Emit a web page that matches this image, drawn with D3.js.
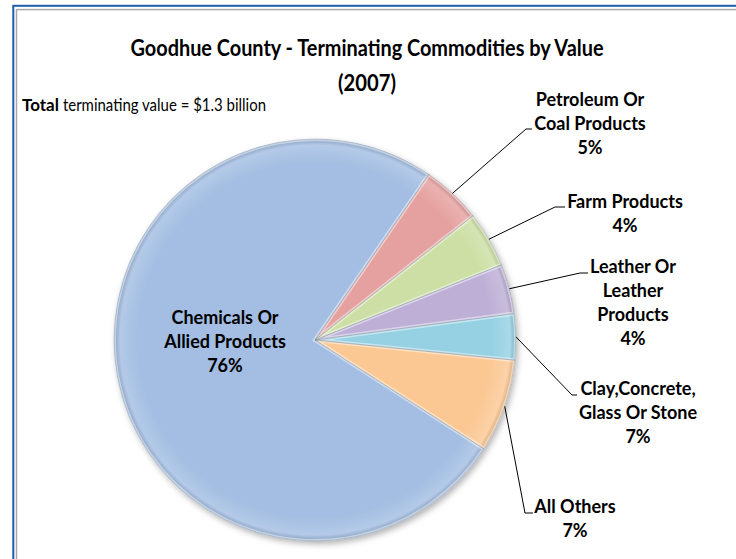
<!DOCTYPE html>
<html>
<head>
<meta charset="utf-8">
<script src="https://cdn.jsdelivr.net/npm/d3@7"></script>
<style>
  html, body { margin: 0; padding: 0; background: #fff; }
  svg { display: block; }
  text { font-family: Lato, "Open Sans", sans-serif; fill: #000; }
</style>
</head>
<body>
<svg id="chart" width="736" height="559"></svg>
<script>
// ---- data ----
const categories = ["Chemicals Or Allied Products", "Petroleum Or Coal Products", "Farm Products",
                    "Leather Or Leather Products", "Clay,Concrete, Glass Or Stone", "All Others"];
const values = [75.4, 4.8, 4.5, 4.0, 3.7, 7.5];
const percentLabels = ["76%", "5%", "4%", "4%", "7%", "7%"];
const labelLines = [
  ["Chemicals Or", "Allied Products"],
  ["Petroleum Or", "Coal Products"],
  ["Farm Products"],
  ["Leather Or", "Leather", "Products"],
  ["Clay,Concrete,", "Glass Or Stone"],
  ["All Others"]
];
const titleLines = ["Goodhue County - Terminating Commodities by Value", "(2007)"];
const totalBold = "Total";
const totalRest = "terminating value = $1.3 billion";

// ---- style / layout ----
const colors = ["#a3bee2", "#e5a19f", "#cddfa4", "#bdafd6", "#95d1e3", "#fbc894"];
// label layout: text centre x, first baseline y, elbow point, tick end x (null = inside label)
const labelLayout = [
  { cx: 225, y0: 324, elbow: null },
  { cx: 590, y0: 106, elbow: [526, 129], tick: 532 },
  { cx: 625, y0: 208, elbow: [555, 207], tick: 565 },
  { cx: 633, y0: 273, elbow: [580, 273], tick: 588 },
  { cx: 638, y0: 395, elbow: [572, 395], tick: 577 },
  { cx: 575, y0: 513, elbow: [525, 513], tick: 533 }
];
const lineH = 24;
const W = 736, H = 559;
const cx = 315, cy = 340, R = 201;
const startDeg = -237.2;

const svg = d3.select("#chart");
const defs = svg.append("defs");

// frame
svg.append("rect").attr("x", 13.3).attr("y", 5.8).attr("width", W).attr("height", H)
  .attr("fill", "none").attr("stroke", "#1f5ea8").attr("stroke-width", 2);
svg.append("rect").attr("x", 16.5).attr("y", 9.6).attr("width", W).attr("height", H)
  .attr("fill", "none").attr("stroke", "#a8a8a8").attr("stroke-width", 1.5);

// shadow filter
const f = defs.append("filter").attr("id", "shadow").attr("x", "-10%").attr("y", "-10%")
  .attr("width", "125%").attr("height", "125%");
f.append("feDropShadow").attr("dx", 2).attr("dy", 3).attr("stdDeviation", 3)
  .attr("flood-color", "#000").attr("flood-opacity", 0.3);

// title
svg.append("g").selectAll("text").data(titleLines).join("text")
  .attr("x", 367).attr("y", (d, i) => 56 + i * 35)
  .attr("text-anchor", "middle")
  .attr("font-size", 23).attr("font-weight", "bold")
  .each(function (d, i) {
    const t = d3.select(this).text(d);
    const w = this.getComputedTextLength();
    const target = i === 0 ? 473 : 58;
    if (w > target) t.attr("textLength", target).attr("lengthAdjust", "spacingAndGlyphs");
  });

// total line: bold word then regular remainder
const tb = svg.append("text").attr("x", 22).attr("y", 111).attr("font-size", 17)
  .attr("font-weight", "bold").text(totalBold);
const bw = tb.node().getComputedTextLength();
const tr = svg.append("text").attr("x", 22 + bw + 4).attr("y", 111).attr("font-size", 17)
  .text(totalRest);
const restTarget = 266 - (22 + bw + 4);
if (tr.node().getComputedTextLength() > restTarget)
  tr.attr("textLength", restTarget).attr("lengthAdjust", "spacingAndGlyphs");

// pie
const a0 = startDeg * Math.PI / 180;
const pie = d3.pie().sort(null).value(d => d).startAngle(a0).endAngle(a0 + 2 * Math.PI);
const arcs = pie(values);
const arc = d3.arc().innerRadius(0).outerRadius(R);
const edgeArc = d3.arc().innerRadius(R).outerRadius(R);

const pg = svg.append("g").attr("transform", `translate(${cx},${cy})`);
const sg = pg.append("g").attr("filter", "url(#shadow)");
sg.selectAll("path.base").data(arcs).join("path").attr("class", "base")
  .attr("d", arc).attr("fill", (d, i) => colors[i]);

// bevel highlight per slice
arcs.forEach((d, i) => {
  defs.append("clipPath").attr("id", "clip" + i).append("path").attr("d", arc(d));
});
const rg = defs.append("radialGradient").attr("id", "rim").attr("gradientUnits", "userSpaceOnUse")
  .attr("cx", 0).attr("cy", 0).attr("r", R);
rg.append("stop").attr("offset", "0.88").attr("stop-color", "#fff").attr("stop-opacity", 0);
rg.append("stop").attr("offset", "0.97").attr("stop-color", "#fff").attr("stop-opacity", 0.18);
rg.append("stop").attr("offset", "1").attr("stop-color", "#000").attr("stop-opacity", 0.12);
pg.selectAll("path.hl").data(arcs).join("path").attr("class", "hl")
  .attr("d", arc)
  .attr("clip-path", (d, i) => `url(#clip${i})`)
  .attr("fill", "url(#rim)")
  .attr("stroke", "#fff").attr("stroke-opacity", 0.45).attr("stroke-width", 4);
pg.selectAll("path.ol").data(arcs).join("path").attr("class", "ol")
  .attr("d", arc).attr("fill", "none")
  .attr("stroke", "#6f7f90").attr("stroke-opacity", 0.35).attr("stroke-width", 0.8);

// leader lines
const lg = svg.append("g").attr("fill", "none").attr("stroke", "#000").attr("stroke-width", 1);
arcs.forEach((d, i) => {
  const L = labelLayout[i];
  if (!L.elbow) return;
  const p = edgeArc.centroid(d);
  lg.append("path").attr("d", d3.line()([[cx + p[0], cy + p[1]], L.elbow, [L.tick, L.elbow[1]]]));
});

// labels
const tg = svg.append("g").attr("font-size", 18).attr("font-weight", "bold").attr("text-anchor", "middle");
arcs.forEach((d, i) => {
  const L = labelLayout[i];
  const lines = labelLines[i].concat([percentLabels[i]]);
  const t = tg.append("text");
  lines.forEach((s, k) => {
    t.append("tspan").attr("x", L.cx).attr("y", L.y0 + k * lineH).text(s);
  });
});
</script>
</body>
</html>
